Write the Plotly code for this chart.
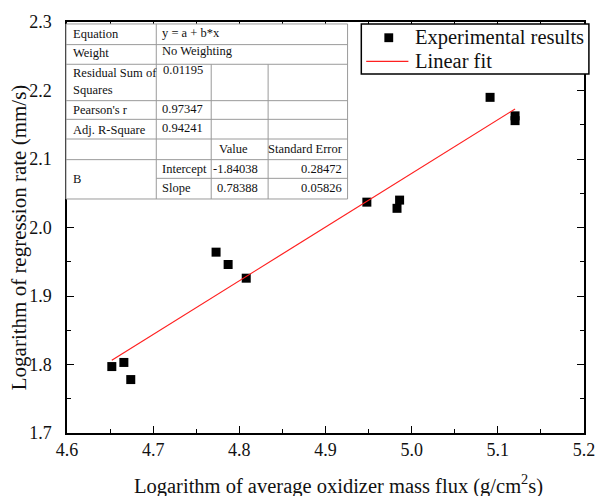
import plotly.graph_objects as go
import numpy as np

# ---- data ----
x_exp = [4.652, 4.666, 4.674, 4.773, 4.787, 4.808, 4.948, 4.983, 4.986, 5.091, 5.120, 5.120]
y_exp = [1.797, 1.803, 1.778, 1.964, 1.946, 1.926, 2.037, 2.028, 2.040, 2.190, 2.163, 2.156]
intercept = -1.84038
slope = 0.78388
intercept_se = 0.28472
slope_se = 0.05826
rss = 0.01195
pearson_r = 0.97347
adj_r2 = 0.94241
legend_names = ["Experimental results", "Linear fit"]

x_ticks = [4.6, 4.7, 4.8, 4.9, 5.0, 5.1, 5.2]
y_ticks = [1.7, 1.8, 1.9, 2.0, 2.1, 2.2, 2.3]

FONT = "Liberation Serif, Times New Roman, serif"
RED = "#ff2020"

W, H = 607, 496
L, R, T, B = 67, 594, 15, 433


def px(x):
    return (x - L) / (R - L)


def py(y):
    return (B - y) / (B - T)


x_fit = np.array([min(x_exp), max(x_exp)])
y_fit = intercept + slope * x_fit

fig = go.Figure()
fig.add_trace(go.Scatter(
    x=x_exp, y=y_exp, mode="markers", name=legend_names[0], showlegend=False,
    marker=dict(symbol="square", size=9, color="black", line=dict(width=0)),
))
fig.add_trace(go.Scatter(
    x=x_fit, y=y_fit, mode="lines", name=legend_names[1], showlegend=False,
    line=dict(color=RED, width=1.2),
))

axis_common = dict(
    showline=True, linecolor="black", linewidth=1.5, mirror="ticks",
    ticks="inside", ticklen=7, tickwidth=1.2, tickcolor="black",
    showgrid=False, zeroline=False,
    tickfont=dict(family=FONT, size=18, color="#111"),
    minor=dict(ticks="inside", ticklen=4, tickwidth=1.2, tickcolor="black", showgrid=False),
)

fig.update_xaxes(
    range=[4.6, 5.2], tickvals=x_ticks, ticktext=[f"{v:.1f}" for v in x_ticks],
    minor_dtick=0.05, minor_tick0=4.6,
    **axis_common,
)
fig.update_yaxes(
    range=[1.7, 2.3], tickvals=y_ticks, ticktext=[f"{v:.1f}" for v in y_ticks],
    minor_dtick=0.05, minor_tick0=1.7, ticklabelstandoff=10,
    **axis_common,
)

# ---- statistics table (drawn as shapes + annotations) ----
shapes = []
gray = "#9a9a9a"
tx0, tx1, tx2, tx3, tx4 = 66, 158, 214, 272, 353
rows = [17, 38, 58, 95, 114, 134, 155, 174, 195]
shapes.append(dict(type="rect", xref="paper", yref="paper", layer="above",
                   x0=px(tx0), x1=px(tx4), y0=py(rows[-1]), y1=py(rows[0]),
                   fillcolor="white", line=dict(color=gray, width=1)))


def hline(y, xa, xb, color=gray, width=1):
    shapes.append(dict(type="line", xref="paper", yref="paper", layer="above",
                       x0=px(xa), x1=px(xb), y0=py(y), y1=py(y),
                       line=dict(color=color, width=width)))


def vline(x, ya, yb):
    shapes.append(dict(type="line", xref="paper", yref="paper", layer="above",
                       x0=px(x), x1=px(x), y0=py(ya), y1=py(yb),
                       line=dict(color=gray, width=1)))


for r in rows[1:7]:
    hline(r, tx0, tx4)
hline(rows[7], tx1, tx4)
vline(tx1, rows[0], rows[-1])
vline(tx2, rows[2], rows[-1])
vline(tx3, rows[2], rows[-1])

annotations = []


def txt(s, x, y, align="left", size=12.5):
    annotations.append(dict(text=s, x=px(x), y=py(y), xref="paper", yref="paper",
                            xanchor=align, yanchor="middle", showarrow=False,
                            font=dict(family=FONT, size=size, color="#111")))


txt("Equation", 71, 27)
txt("y = a + b*x", 162, 26)
txt("Weight", 71, 47)
txt("No Weighting", 162, 45)
txt("Residual Sum of", 71, 67)
txt("Squares", 71, 84)
txt(f"{rss:.5f}", 208, 64, "right")
txt("Pearson's r", 71, 105)
txt(f"{pearson_r:.5f}", 208, 103, "right")
txt("Adj. R-Square", 71, 125)
txt(f"{adj_r2:.5f}", 208, 123, "right")
txt("Value", 237, 144, "center")
txt("Standard Error", 350, 144, "right")
txt("B", 71, 175)
txt("Intercept", 162, 164)
txt(f"{intercept:.5f}", 264, 164, "right")
txt(f"{intercept_se:.5f}", 349, 164, "right")
txt("Slope", 162, 184)
txt(f"{slope:.5f}", 264, 184, "right")
txt(f"{slope_se:.5f}", 349, 184, "right")

# ---- legend (box + symbols + labels) ----
shapes.append(dict(type="rect", xref="paper", yref="paper", layer="above",
                   x0=px(367), x1=px(599), y0=py(68), y1=py(17),
                   fillcolor="white", line=dict(color="black", width=1.5)))
shapes.append(dict(type="rect", xref="paper", yref="paper", layer="above",
                   x0=px(390.5), x1=px(399.5), y0=py(35.5), y1=py(26.5),
                   fillcolor="black", line=dict(width=0)))
hline(55, 372, 415, color=RED, width=1.2)
txt(legend_names[0], 420, 31, size=20.5)
txt(legend_names[1], 420, 55, size=20.5)

# axis titles
annotations.append(dict(
    text="Logarithm of average oxidizer mass flux (g/cm<sup>2</sup>s)",
    x=px(344), y=py(485), xref="paper", yref="paper", xanchor="center", yanchor="middle",
    showarrow=False, font=dict(family=FONT, size=20.5, color="#111")))
annotations.append(dict(
    text="Logarithm of regression rate (mm/s)",
    x=px(18), y=py(234), xref="paper", yref="paper", xanchor="center", yanchor="middle",
    textangle=-90, showarrow=False, font=dict(family=FONT, size=21, color="#111")))

fig.update_layout(
    width=W, height=H,
    margin=dict(l=L, r=W - R, t=T, b=H - B),
    paper_bgcolor="white", plot_bgcolor="white",
    shapes=shapes, annotations=annotations,
    showlegend=False,
    font=dict(family=FONT),
)

fig.write_html("out.html")
